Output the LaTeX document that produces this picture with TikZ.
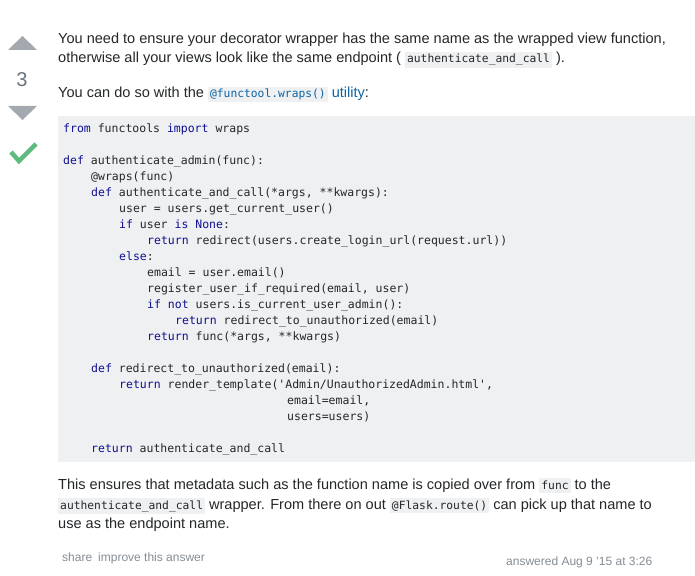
\documentclass[tikz,border=0pt]{standalone}
\usepackage{fontspec}
\setmainfont{Liberation Sans}
\setmonofont{DejaVu Sans Mono}
\definecolor{codebg}{HTML}{EFF0F1}
\definecolor{txt}{HTML}{242729}
\definecolor{kw}{HTML}{101094}
\definecolor{vote}{HTML}{A3A9AE}
\definecolor{votenum}{HTML}{6A737C}
\definecolor{accept}{HTML}{5FBA7D}
\definecolor{linkc}{HTML}{0C65A5}
\definecolor{meta}{HTML}{848D95}
\newcommand\kw[1]{\textcolor{kw}{#1}}
\newcommand\ic[1]{{\setlength\fboxsep{2pt}\colorbox{codebg}{\fontsize{11.3}{12}\ttfamily\vphantom{Ay}#1}}}
\begin{document}
\begin{tikzpicture}[x=1pt,y=-1pt,
  para/.style={anchor=base west,inner sep=0,font=\fontsize{14.55}{17}\selectfont,text=txt},
  code/.style={anchor=base west,inner sep=0,font=\fontsize{11.5}{16}\ttfamily,text=txt},
  metatext/.style={anchor=base west,inner sep=0,font=\fontsize{12}{14}\selectfont,text=meta}]
\useasboundingbox[fill=white] (0,0) rectangle (695,575);
% vote column
\fill[vote] (8,50) -- (22.5,36) -- (37,50) -- cycle;
\node[inner sep=0,font=\fontsize{20}{22}\selectfont,text=votenum] (votes) at (22,80) {3};
\fill[vote] (8,106) -- (22.5,120) -- (37,106) -- cycle;
\draw[accept,line width=4.5pt] (11,152) -- (19,161) -- (36,144);
% text
\node[para] (l1) at (58,44) {You need to ensure your decorator wrapper has the same name as the wrapped view function,};
\node[para] (l2) at (58,63) {otherwise all your views look like the same endpoint ( \ic{authenticate\_and\_call} ).};
\node[para] (l3) at (58,98) {You can do so with the \ic{\textcolor{linkc}{@functool.wraps()}} \textcolor{linkc}{utility}:};
% code block
\fill[codebg] (58,116) rectangle (695,462);
\node[code] (c1) at (63,132) {\kw{from} functools \kw{import} wraps};
\node[code] (c2) at (63,164) {\kw{def} authenticate\_admin(func):};
\node[code] (c3) at (91,180) {@wraps(func)};
\node[code] (c4) at (91,196) {\kw{def} authenticate\_and\_call(*args, **kwargs):};
\node[code] (c5) at (119,212) {user = users.get\_current\_user()};
\node[code] (c6) at (119,228) {\kw{if} user \kw{is} \kw{None}:};
\node[code] (c7) at (147,244) {\kw{return} redirect(users.create\_login\_url(request.url))};
\node[code] (c8) at (119,260) {\kw{else}:};
\node[code] (c9) at (147,276) {email = user.email()};
\node[code] (c10) at (147,292) {register\_user\_if\_required(email, user)};
\node[code] (c11) at (147,308) {\kw{if} \kw{not} users.is\_current\_user\_admin():};
\node[code] (c12) at (175,324) {\kw{return} redirect\_to\_unauthorized(email)};
\node[code] (c13) at (147,340) {\kw{return} func(*args, **kwargs)};
\node[code] (c14) at (91,372) {\kw{def} redirect\_to\_unauthorized(email):};
\node[code] (c15) at (119,388) {\kw{return} render\_template('Admin/UnauthorizedAdmin.html',};
\node[code] (c16) at (287,404) {email=email,};
\node[code] (c17) at (287,420) {users=users)};
\node[code] (c18) at (91,452) {\kw{return} authenticate\_and\_call};
% closing text
\node[para] (p1) at (58,489) {This ensures that metadata such as the function name is copied over from \ic{func} to the};
\node[para] (p2) at (58,509) {\ic{authenticate\_and\_call} wrapper. From there on out \ic{@Flask.route()} can pick up that name to};
\node[para] (p3) at (58,528) {use as the endpoint name.};
% footer
\node[metatext] (share) at (62,561) {share\hspace{6pt}improve this answer};
\node[metatext] (answered) at (506,565) {answered Aug 9 '15 at 3:26};
\end{tikzpicture}
\end{document}
